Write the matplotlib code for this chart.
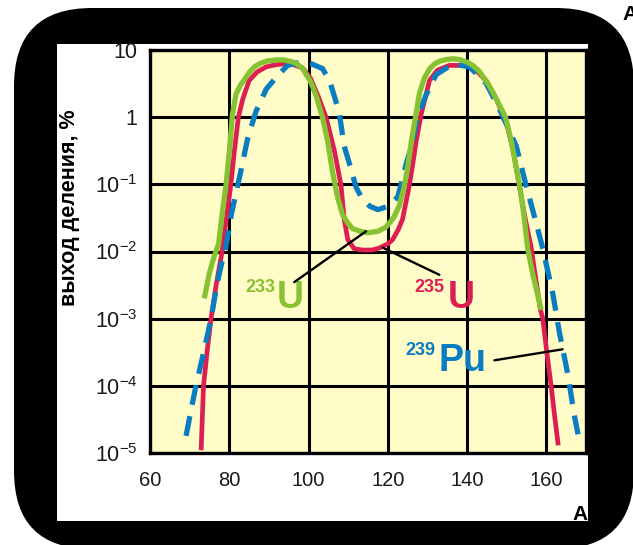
import matplotlib
matplotlib.use("Agg")
import matplotlib.pyplot as plt
from matplotlib.patches import FancyBboxPatch, Rectangle
from matplotlib.ticker import NullLocator
from matplotlib.transforms import IdentityTransform

plt.rcParams["font.family"] = ["Liberation Sans", "DejaVu Sans"]
plt.rcParams["mathtext.fontset"] = "custom"
plt.rcParams["mathtext.rm"] = "Liberation Sans"
plt.rcParams["mathtext.default"] = "regular"

# --- data: mass number A vs fission yield, % ---
mass_233 = [73.7, 75.0, 76.2, 77.3, 78.3, 79.2, 80.0, 80.8, 81.7, 82.8, 83.8, 85.0,
            86.3, 88.0, 89.8, 91.8, 94.0, 96.5, 98.4, 100.5, 101.9, 103.5, 104.8,
            106.0, 107.3, 108.6, 110.0, 111.1, 113.0, 114.9, 117.5, 119.5, 121.5,
            122.9, 124.0, 124.8, 125.9, 127.1, 128.0, 129.2, 130.5, 131.8, 133.0,
            134.7, 136.4, 138.2, 140.0, 141.6, 143.1, 145.5, 147.3, 149.7, 151.3,
            153.2, 154.2, 155.3, 156.5, 158.7]
yield_233 = [2.0e-3, 4.8e-3, 8.5e-3, 0.013, 0.04, 0.1, 0.3, 1.1, 2.2, 3.0, 3.6, 4.6,
             5.6, 6.4, 6.9, 7.1, 7.1, 6.5, 5.4, 3.4, 2.1, 1.0, 0.45,
             0.16, 0.065, 0.035, 0.026, 0.022, 0.020, 0.019, 0.020, 0.023, 0.032,
             0.048, 0.085, 0.15, 0.42, 1.1, 2.3, 3.8, 5.2, 6.2, 6.8,
             7.2, 7.4, 7.2, 6.6, 5.8, 4.8, 3.0, 1.9, 1.0, 0.4,
             0.1, 0.04, 0.011, 4.8e-3, 1.35e-3]

mass_235 = [72.9, 73.5, 74.4, 75.4, 76.7, 78.2, 79.3, 80.4, 81.3, 82.3, 83.4, 85.0,
            87.0, 89.3, 91.5, 93.5, 96.0, 98.5, 100.5, 102.5, 104.4, 105.5, 106.5,
            107.4, 108.2, 109.0, 109.9, 111.5, 113.6, 116.0, 117.9, 120.0, 121.2,
            122.6, 123.7, 124.6, 125.4, 126.3, 127.1, 128.4, 129.5, 130.5, 132.5,
            135.5, 139.7, 142.5, 144.8, 147.3, 149.8, 151.5, 153.4, 154.7, 156.1,
            157.3, 158.5, 159.1, 160.1, 161.2, 162.1, 163.0]
yield_235 = [1.1e-5, 1e-4, 3.2e-4, 1e-3, 3.2e-3, 0.01, 0.032, 0.1, 0.32, 1.0, 1.86, 3.5,
             4.7, 5.6, 6.0, 6.2, 6.1, 5.4, 3.8, 2.0, 1.0, 0.55, 0.32,
             0.17, 0.095, 0.03, 0.015, 0.011, 0.0105, 0.0105, 0.0113, 0.013, 0.015,
             0.021, 0.03, 0.055, 0.095, 0.2, 0.42, 1.1, 2.0, 3.5, 5.0,
             5.9, 5.9, 4.8, 3.5, 1.9, 0.87, 0.35, 0.08, 0.03, 0.012,
             4e-3, 1.35e-3, 1e-3, 3.2e-4, 1e-4, 3.5e-5, 1.3e-5]

mass_239 = [69.1, 70.4, 71.6, 73.7, 75.4, 77.0, 78.3, 79.2, 80.5, 81.7, 82.9, 84.6,
            86.7, 89.3, 91.8, 94.7, 98.0, 100.5, 103.5, 105.3, 106.8, 107.8, 109.0,
            110.7, 112.0, 113.6, 115.5, 117.5, 120.0, 122.5, 123.7, 124.8, 125.9,
            127.1, 128.2, 129.6, 132.2, 136.4, 140.6, 144.8, 148.1, 150.3, 152.4,
            154.9, 157.4, 159.1, 161.6, 163.3, 165.4, 167.1, 168.0]
yield_239 = [1.8e-5, 4.5e-5, 1e-4, 3.5e-4, 1e-3, 3.5e-3, 7.6e-3, 0.012, 0.035, 0.075, 0.155, 0.47,
             1.2, 2.6, 3.9, 5.9, 6.6, 6.3, 5.3, 3.5, 1.8, 1.1, 0.37,
             0.17, 0.09, 0.06, 0.047, 0.042, 0.047, 0.065, 0.12, 0.22, 0.35,
             0.77, 1.3, 2.1, 4.3, 6.2, 5.6, 3.2, 1.35, 0.7, 0.37,
             0.095, 0.027, 0.011, 2.4e-3, 6.2e-4, 1.5e-4, 3.5e-5, 1.9e-5]

x_ticks = [60, 80, 100, 120, 140, 160]
y_ticks = [1e-5, 1e-4, 1e-3, 1e-2, 1e-1, 1, 10]
y_tick_labels = [r"$10^{-5}$", r"$10^{-4}$", r"$10^{-3}$", r"$10^{-2}$",
                 r"$10^{-1}$", "1", "10"]

GREEN = "#86C232"
RED = "#DC1E50"
BLUE = "#0A7CC2"
PAPER = "#FFFCC8"

fig = plt.figure(figsize=(6.33, 5.45), dpi=100)

# black rounded frame + white panel, in pixel coordinates
frame = FancyBboxPatch((14, -4), 620, 541, boxstyle="round,pad=0,rounding_size=78",
                       transform=IdentityTransform(), fc="black", ec="none", zorder=-2)
fig.add_artist(frame)
panel = Rectangle((57, 24), 531, 477, transform=IdentityTransform(),
                  fc="white", ec="none", zorder=-1)
fig.add_artist(panel)

W, H = 633, 545
ax = fig.add_axes([150 / W, 1 - 453 / H, 436 / W, 403 / H])
ax.set_zorder(1)
ax.set_facecolor(PAPER)
ax.set_yscale("log")
ax.set_xlim(60, 170)
ax.set_ylim(1e-5, 10)

ax.set_xticks(x_ticks)
ax.set_xticklabels([str(t) for t in x_ticks])
ax.set_yticks(y_ticks)
ax.set_yticklabels(y_tick_labels)
ax.yaxis.set_minor_locator(NullLocator())
ax.tick_params(length=0, colors="#1a1a1a")
ax.tick_params(axis="x", pad=13, labelsize=14.5)
ax.tick_params(axis="y", pad=9, labelsize=15.5)

ax.grid(True, color="black", lw=2.2)
ax.set_axisbelow(True)
for sp in ax.spines.values():
    sp.set_linewidth(2.4)
    sp.set_color("black")

ax.plot(mass_235, yield_235, color=RED, lw=3.4, zorder=3, solid_capstyle="butt",
        solid_joinstyle="round")
ax.plot(mass_239, yield_239, color=BLUE, lw=3.8, zorder=4, dash_capstyle="butt",
        dash_joinstyle="round", linestyle=(0, (3.8, 2.2)))
ax.plot(mass_233, yield_233, color=GREEN, lw=3.8, zorder=5, solid_capstyle="butt",
        solid_joinstyle="round")

# leader lines
leader = dict(arrowstyle="-", lw=1.7, color="black", shrinkA=0, shrinkB=0)
ax.annotate("", xy=(114.5, 0.020), xytext=(96.4, 3.5e-3), arrowprops=leader, zorder=6)
ax.annotate("", xy=(118.7, 0.0114), xytext=(133.0, 4.5e-3), arrowprops=leader, zorder=6)
ax.annotate("", xy=(164.1, 3.5e-4), xytext=(146.9, 2.4e-4), arrowprops=leader, zorder=6)

# isotope labels
ax.text(84.0, 2.5e-3, "233", color=GREEN, fontsize=13, fontweight="bold", va="baseline")
ax.text(92.1, 1.45e-3, "U", color=GREEN, fontsize=27, fontweight="bold", va="baseline")
ax.text(126.7, 2.5e-3, "235", color=RED, fontsize=13, fontweight="bold", va="baseline")
ax.text(135.0, 1.45e-3, "U", color=RED, fontsize=27, fontweight="bold", va="baseline")
ax.text(124.4, 2.9e-4, "239", color=BLUE, fontsize=13, fontweight="bold", va="baseline")
ax.text(132.7, 1.66e-4, "Pu", color=BLUE, fontsize=27, fontweight="bold", va="baseline")

fig.text(69 / W, 1 - 208 / H, "выход деления, %", rotation=90, ha="center",
         va="center", fontsize=15.5, fontweight="bold")
fig.text(580 / W, 1 - 515 / H, "A", ha="center", va="center", fontsize=15,
         fontweight="bold")
fig.text(622 / W, 1 - 15 / H, "A", ha="left", va="center", fontsize=15,
         fontweight="bold")

fig.savefig("out.png", dpi=100)
